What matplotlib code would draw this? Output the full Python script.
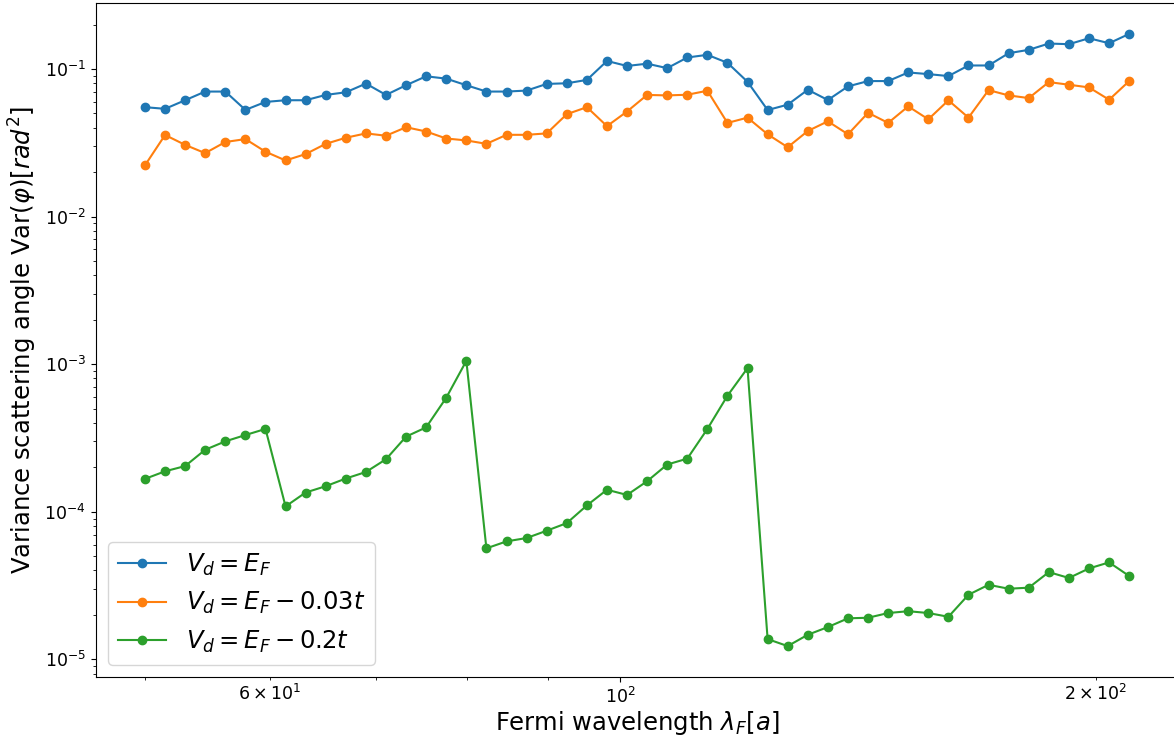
import numpy as np
import matplotlib
matplotlib.use('Agg')
import matplotlib.pyplot as plt

# Fermi wavelengths (in units of lattice constant a)
wavelength = [50.00, 51.49, 53.02, 54.59, 56.22, 57.89, 59.61, 61.38, 63.20, 65.08,
              67.02, 69.01, 71.06, 73.17, 75.34, 77.58, 79.89, 82.26, 84.71, 87.23,
              89.82, 92.49, 95.24, 98.07, 100.98, 103.98, 107.07, 110.25, 113.53, 116.90,
              120.37, 123.95, 127.63, 131.43, 135.33, 139.36, 143.50, 147.76, 152.15, 156.67,
              161.33, 166.12, 171.06, 176.14, 181.38, 186.77, 192.32, 198.03, 203.92, 209.98]

# variance of scattering angle for each barrier height
var_ef = [0.0551, 0.0537, 0.0614, 0.0703, 0.0703, 0.0528, 0.0598, 0.0614, 0.0614, 0.0667,
          0.0695, 0.0796, 0.0667, 0.0776, 0.0892, 0.0860, 0.0776, 0.0703, 0.0703, 0.0714,
          0.0792, 0.0800, 0.0843, 0.1133, 0.1048, 0.1086, 0.1013, 0.1196, 0.1247, 0.1101,
          0.0819, 0.0527, 0.0573, 0.0723, 0.0616, 0.0762, 0.0828, 0.0828, 0.0947, 0.0923,
          0.0895, 0.1056, 0.1056, 0.1279, 0.1348, 0.1487, 0.1472, 0.1615, 0.1494, 0.1728]

var_ef_003 = [0.0222, 0.0357, 0.0306, 0.0269, 0.0320, 0.0335, 0.0275, 0.0240, 0.0265, 0.0311,
              0.0342, 0.0366, 0.0353, 0.0403, 0.0377, 0.0338, 0.0328, 0.0311, 0.0358, 0.0358,
              0.0366, 0.0494, 0.0551, 0.0410, 0.0515, 0.0667, 0.0662, 0.0669, 0.0712, 0.0431,
              0.0468, 0.0361, 0.0295, 0.0380, 0.0442, 0.0361, 0.0505, 0.0431, 0.0558, 0.0456,
              0.0613, 0.0468, 0.0719, 0.0662, 0.0635, 0.0815, 0.0782, 0.0750, 0.0619, 0.0828]

var_ef_02 = [1.67e-4, 1.88e-4, 2.04e-4, 2.63e-4, 3.00e-4, 3.31e-4, 3.64e-4, 1.087e-4, 1.35e-4, 1.49e-4,
             1.68e-4, 1.86e-4, 2.27e-4, 3.23e-4, 3.73e-4, 5.92e-4, 1.053e-3, 5.65e-5, 6.30e-5, 6.64e-5,
             7.44e-5, 8.38e-5, 1.104e-4, 1.41e-4, 1.30e-4, 1.61e-4, 2.09e-4, 2.29e-4, 3.64e-4, 6.11e-4,
             9.40e-4, 1.372e-5, 1.23e-5, 1.468e-5, 1.655e-5, 1.897e-5, 1.914e-5, 2.06e-5, 2.12e-5, 2.06e-5,
             1.943e-5, 2.74e-5, 3.20e-5, 3.01e-5, 3.06e-5, 3.90e-5, 3.56e-5, 4.13e-5, 4.54e-5, 3.67e-5]

labels = [r'$V_d = E_F$', r'$V_d = E_F - 0.03t$', r'$V_d = E_F - 0.2t$']

fig = plt.figure(figsize=(11.74, 7.35), dpi=100)
ax = fig.add_axes([95.7 / 1174, 58.3 / 735, 1082.7 / 1174, 673.4 / 735])

for y, lab in zip([var_ef, var_ef_003, var_ef_02], labels):
    ax.plot(wavelength, y, 'o-', markersize=6, label=lab)

ax.set_xscale('log')
ax.set_yscale('log')
ax.tick_params(which='both', labelsize=12.5)
ax.set_xlabel(r'Fermi wavelength $\lambda_F[a]$', fontsize=17.5, labelpad=1.5)
ax.set_ylabel(r'Variance scattering angle Var($\varphi$)$[rad^2]$', fontsize=17.5)
ax.legend(loc='lower left', fontsize=17.5)

fig.savefig('out.png', dpi=100)
